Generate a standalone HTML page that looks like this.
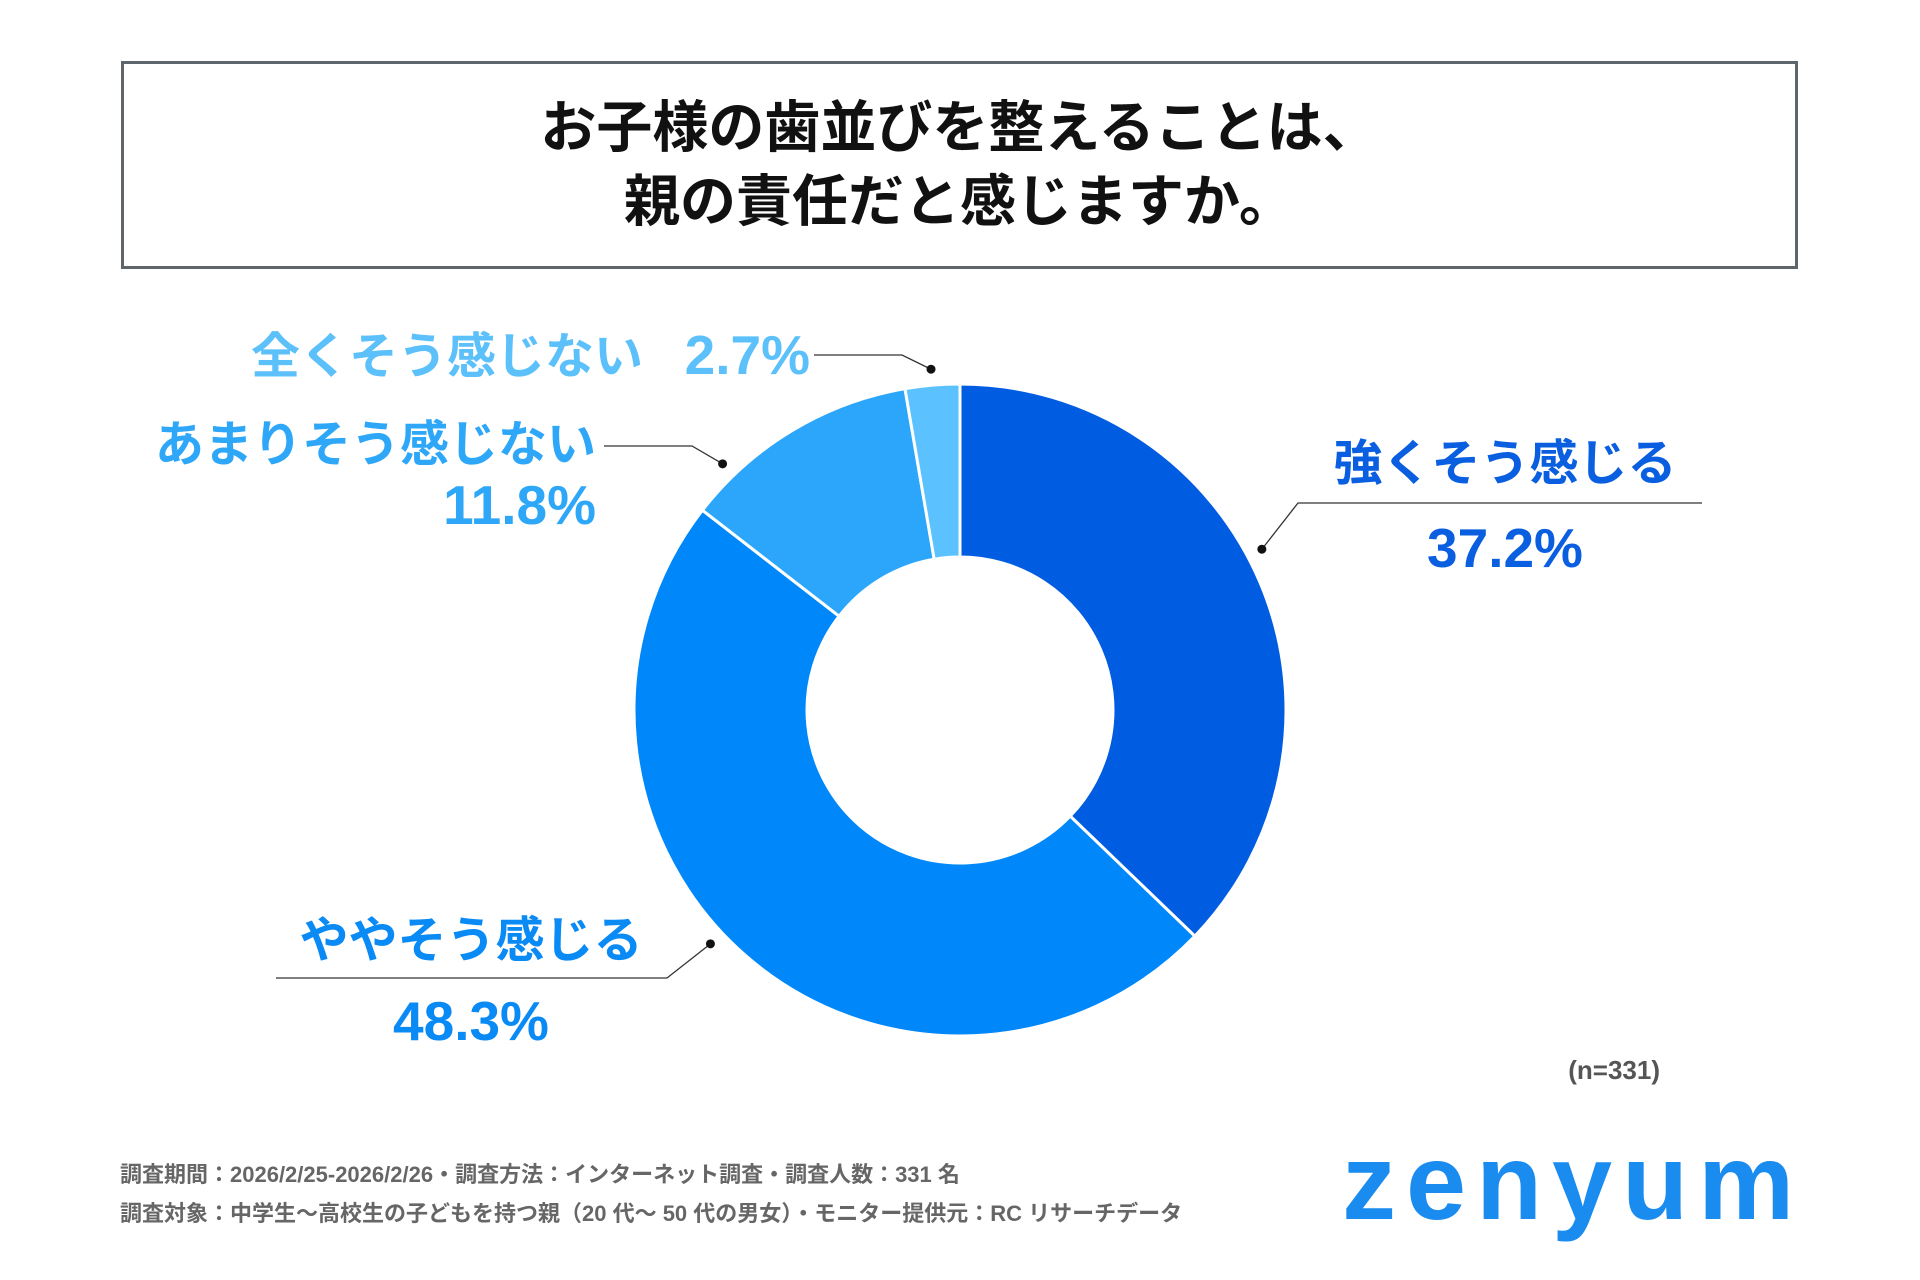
<!DOCTYPE html>
<html><head><meta charset="utf-8">
<style>
html,body{margin:0;padding:0;background:#fff;}
body{width:1920px;height:1280px;position:relative;overflow:hidden;font-family:"Liberation Sans","Noto Sans CJK JP",sans-serif;}
.title-box{position:absolute;left:121px;top:61px;width:1671px;height:202px;border:3px solid #5f666b;box-sizing:content-box;}
.title{position:absolute;left:0;right:0;text-align:center;font-weight:bold;font-size:56px;color:#111;line-height:1;}
.foot{position:absolute;left:120px;font-size:22px;font-weight:bold;color:#666;}
</style></head>
<body>
<div class="title-box">
  <div class="title" style="top:36px">お子様の歯並びを整えることは、</div>
  <div class="title" style="top:110px">親の責任だと感じますか。</div>
</div>
<svg id="chart" width="1920" height="1280" style="position:absolute;left:0;top:0"></svg>
<div style="position:absolute;right:260px;top:1055px;font-size:26px;font-weight:bold;color:#555">(n=331)</div>
<div class="foot" style="top:1157px">調査期間：2026/2/25-2026/2/26・調査方法：インターネット調査・調査人数：331 名</div>
<div class="foot" style="top:1196px">調査対象：中学生～高校生の子どもを持つ親（20 代～ 50 代の男女）・モニター提供元：RC リサーチデータ</div>
<div style="position:absolute;left:1342px;top:1128px;font-size:108px;font-weight:bold;color:#1a8cf0;letter-spacing:10px;line-height:1">zenyum</div>
<script>
const categories=["強くそう感じる","ややそう感じる","あまりそう感じない","全くそう感じない"];
const values=[37.2,48.3,11.8,2.7];
const labels=["37.2%","48.3%","11.8%","2.7%"];
const colors=["#005ce0","#0088fa","#2ba6fb","#5bc2ff"];
const textColors=["#0a5fe0","#0a8af5","#2ea7f8","#5cc0fa"];
const NS="http://www.w3.org/2000/svg";
const svg=document.getElementById('chart');
const cx=960,cy=710,R=326,r=153;
const total=values.reduce((a,b)=>a+b,0);
function pt(a,rad){return [cx+rad*Math.sin(a),cy-rad*Math.cos(a)];}
function mk(tag,attrs){const e=document.createElementNS(NS,tag);for(const k in attrs)e.setAttribute(k,attrs[k]);svg.appendChild(e);return e;}
let acc=0;const mids=[];
values.forEach((v,i)=>{
  const a0=acc/total*2*Math.PI;acc+=v;const a1=acc/total*2*Math.PI;
  mids.push((a0+a1)/2);
  const large=(a1-a0)>Math.PI?1:0;
  const [x0,y0]=pt(a0,R),[x1,y1]=pt(a1,R),[x2,y2]=pt(a1,r),[x3,y3]=pt(a0,r);
  const p=mk('path',{d:`M${x0},${y0}A${R},${R} 0 ${large} 1 ${x1},${y1}L${x2},${y2}A${r},${r} 0 ${large} 0 ${x3},${y3}Z`,fill:colors[i],stroke:'#fff','stroke-width':3});
  
  
});
const lay=[
 {off:-5,ex:1298,ey:503,lx:1702,nameX:1505,nameY:480,nameAnchor:'middle',valX:1505,valY:567,valAnchor:'middle'},
 {off:6,ex:667,ey:978,lx:276,nameX:471,nameY:957,nameAnchor:'middle',valX:471,valY:1040,valAnchor:'middle'},
 {off:-13,ex:692,ey:446,lx:604,nameX:596,nameY:461,nameAnchor:'end',valX:596,valY:524,valAnchor:'end'},
 {off:0,ex:902,ey:355,lx:814,nameX:643,nameY:373,nameAnchor:'end',valX:810,valY:374,valAnchor:'end'}
];
lay.forEach((L,i)=>{
  const [dx,dy]=pt(mids[i]+L.off*Math.PI/180,342);
  const ln=mk('polyline',{points:`${dx},${dy} ${L.ex},${L.ey} ${L.lx},${L.ey}`,fill:'none',stroke:'#333','stroke-width':1.3});
  
  
  const d=mk('circle',{cx:dx,cy:dy,r:4.5,fill:'#111'});
  
  
  const t=mk('text',{x:L.nameX,y:L.nameY,'text-anchor':L.nameAnchor,fill:textColors[i],'font-size':49,'font-weight':'bold','font-family':'"Liberation Sans","Noto Sans CJK JP",sans-serif'});
  t.textContent=categories[i];
  
  
  const v=mk('text',{x:L.valX,y:L.valY,'text-anchor':L.valAnchor,fill:textColors[i],'font-size':55,'font-weight':'bold','font-family':'"Liberation Sans","Noto Sans CJK JP",sans-serif'});
  v.textContent=labels[i];
  
  
});
</script>
</body></html>
